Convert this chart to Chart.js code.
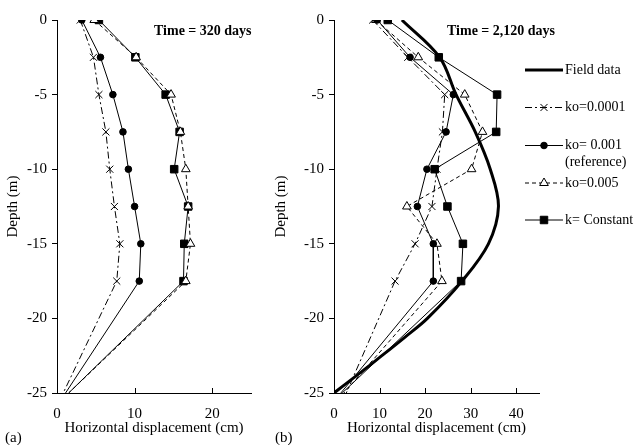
<!DOCTYPE html>
<html>
<head>
<meta charset="utf-8">
<script src="https://cdn.jsdelivr.net/npm/chart.js@4.4.0/dist/chart.umd.min.js"></script>
<style>
body { margin: 0; background: #fff; }
canvas { position: absolute; top: 0; }
#left { left: 0; }
#right { left: 270px; }
</style>
</head>
<body>
<canvas id="left" width="270" height="445"></canvas>
<canvas id="right" width="365" height="445"></canvas>
<script>
// depth of each computed point (m)
var depths = [0, -2.5, -5, -7.5, -10, -12.5, -15, -17.5, -25];

// (a) time = 320 days, displacement (cm)
var a_ko0001 = [3.0, 4.7, 5.4, 6.3, 6.8, 7.4, 8.1, 7.7, 0.8];
var a_ko001  = [3.2, 5.6, 7.2, 8.5, 9.2, 10.0, 10.8, 10.6, 1.1];
var a_ko005  = [4.8, 10.2, 14.7, 15.9, 16.6, 16.9, 17.2, 16.6, 1.5];
var a_kconst = [5.4, 10.1, 14.0, 15.8, 15.1, 16.9, 16.4, 16.3, 1.5];

// (b) time = 2,120 days
var b_ko0001 = [8.5, 16.2, 24.3, 23.8, 22.6, 21.5, 17.8, 13.4, 2.7];
var b_ko001  = [9.5, 16.7, 26.2, 24.6, 20.4, 18.3, 21.8, 21.8, 1.5];
var b_ko005  = [9.2, 18.5, 28.7, 32.6, 30.2, 16.0, 22.6, 23.7, 2.2];
var b_kconst = [11.8, 23.0, 35.8, 35.6, 22.1, 24.9, 28.3, 27.9, 1.8];

// field measurements
var fieldDepths = [0, -2.5, -5, -7.5, -10, -12.5, -15, -17.5, -20, -21.25, -22.5, -23.75, -25];
var fieldValues = [14.9, 23.2, 26.8, 31.0, 34.3, 36.1, 33.9, 28.1, 20.5, 15.6, 10.5, 5.3, 0];

var xTicks = [0, 10, 20, 30, 40];
var yTicks = [0, -5, -10, -15, -20, -25];

var serif = "'Liberation Serif', 'Times New Roman', serif";

function pts(xs, ys) {
    return xs.map(function (v, i) { return { x: v, y: ys[i] }; });
}

// no marker on the toe point at -25 m
function radii(r) {
    return depths.map(function (d) { return d === -25 ? 0 : r; });
}

var styles = {
    ko0001: { borderDash: [7, 3, 2, 3], pointStyle: 'crossRot', radius: 5, fill: '#000' },
    ko001:  { borderDash: [], pointStyle: 'circle', radius: 3.3, fill: '#000' },
    ko005:  { borderDash: [4, 3], pointStyle: 'triangle', radius: 5, fill: '#fff' },
    kconst: { borderDash: [], pointStyle: 'rect', radius: 5.3, fill: '#000' }
};

function series(values, key) {
    var s = styles[key];
    return {
        data: pts(values, depths),
        borderColor: '#000',
        borderWidth: 1,
        borderDash: s.borderDash,
        pointStyle: s.pointStyle,
        pointRadius: radii(s.radius),
        pointBackgroundColor: s.fill,
        pointBorderColor: '#000',
        pointBorderWidth: 1,
        tension: 0
    };
}

function makeScales(xmax, yWidth, yTitlePad) {
    return {
        x: {
            type: 'linear', min: 0, max: xmax,
            afterBuildTicks: function (s) {
                s.ticks = xTicks.filter(function (v) { return v <= xmax; }).map(function (v) { return { value: v }; });
            },
            afterFit: function (s) { s.height = 52; },
            grid: { display: false },
            border: { display: true, color: '#000', width: 1 },
            ticks: { color: '#000', font: { family: serif, size: 15 }, padding: 4, maxRotation: 0 },
            title: { display: true, text: 'Horizontal displacement (cm)', color: '#000',
                     font: { family: serif, size: 15 }, padding: { top: 0, bottom: 8 } }
        },
        y: {
            type: 'linear', min: -25, max: 0,
            afterBuildTicks: function (s) {
                s.ticks = yTicks.map(function (v) { return { value: v }; });
            },
            afterFit: function (s) { s.width = yWidth; },
            grid: { display: true, drawOnChartArea: false, drawTicks: true, tickLength: 5, color: '#000' },
            border: { display: true, color: '#000', width: 1 },
            ticks: { color: '#000', font: { family: serif, size: 15 }, padding: 5 },
            title: { display: true, text: 'Depth (m)', color: '#000',
                     font: { family: serif, size: 15 }, padding: { top: yTitlePad, bottom: 0 } }
        }
    };
}

// inward x ticks, panel title, panel letter
function decor(title, titleX, letter) {
    return {
        id: 'decor',
        afterDraw: function (chart) {
            var c = chart.ctx, xs = chart.scales.x, area = chart.chartArea;
            c.save();
            c.strokeStyle = '#000';
            c.lineWidth = 1;
            xs.ticks.forEach(function (t) {
                var px = Math.round(xs.getPixelForValue(t.value)) + 0.5;
                c.beginPath();
                c.moveTo(px, area.bottom);
                c.lineTo(px, area.bottom - 5);
                c.stroke();
            });
            c.fillStyle = '#000';
            c.font = 'bold 14px ' + serif;
            c.textBaseline = 'middle';
            c.fillText(title, titleX, 31);
            c.font = '15px ' + serif;
            c.fillText(letter, 5, 438);
            c.restore();
        }
    };
}

var legendItems = [
    { text: ['Field data'], key: 'field', y: 70 },
    { text: ['ko=0.0001'], key: 'ko0001', y: 107.5 },
    { text: ['ko= 0.001', '(reference)'], key: 'ko001', y: 145.5 },
    { text: ['ko=0.005'], key: 'ko005', y: 183 },
    { text: ['k= Constant'], key: 'kconst', y: 220 }
];

var legendPlugin = {
    id: 'sideLegend',
    afterDraw: function (chart) {
        var c = chart.ctx, x0 = 255, x1 = 293;
        c.save();
        legendItems.forEach(function (it) {
            c.strokeStyle = '#000';
            if (it.key === 'field') {
                c.lineWidth = 3;
                c.setLineDash([]);
            } else {
                c.lineWidth = 1;
                c.setLineDash(styles[it.key].borderDash);
            }
            c.beginPath();
            c.moveTo(x0, it.y);
            c.lineTo(x1, it.y);
            c.stroke();
            c.setLineDash([]);
            if (it.key !== 'field') {
                var s = styles[it.key];
                c.fillStyle = s.fill;
                c.lineWidth = 1;
                Chart.helpers.drawPoint(c, { pointStyle: s.pointStyle, radius: s.radius, borderWidth: 1 }, (x0 + x1) / 2, it.y);
            }
            c.fillStyle = '#000';
            c.font = '14px ' + serif;
            c.textBaseline = 'middle';
            it.text.forEach(function (t, k) {
                c.fillText(t, 295, it.y + k * 17);
            });
        });
        c.restore();
    }
};

var baseOptions = function (xmax, yWidth, yTitlePad, padRight) {
    return {
        responsive: false,
        animation: false,
        layout: { padding: { top: 20, right: padRight, bottom: 0, left: 0 } },
        plugins: { legend: { display: false }, tooltip: { enabled: false } },
        scales: makeScales(xmax, yWidth, yTitlePad)
    };
};

new Chart(document.getElementById('left').getContext('2d'), {
    type: 'line',
    data: {
        datasets: [
            series(a_ko0001, 'ko0001'),
            series(a_ko001, 'ko001'),
            series(a_ko005, 'ko005'),
            series(a_kconst, 'kconst')
        ]
    },
    options: baseOptions(25, 57, 4, 19),
    plugins: [decor('Time = 320 days', 154, '(a)')]
});

new Chart(document.getElementById('right').getContext('2d'), {
    type: 'line',
    data: {
        datasets: [
            {
                data: pts(fieldValues, fieldDepths),
                borderColor: '#000',
                borderWidth: 3,
                pointRadius: 0,
                tension: 0.35
            },
            series(b_ko0001, 'ko0001'),
            series(b_ko001, 'ko001'),
            series(b_ko005, 'ko005'),
            series(b_kconst, 'kconst')
        ]
    },
    options: baseOptions(45, 64, 2, 96),
    plugins: [decor('Time = 2,120 days', 177, '(b)'), legendPlugin]
});
</script>
</body>
</html>
